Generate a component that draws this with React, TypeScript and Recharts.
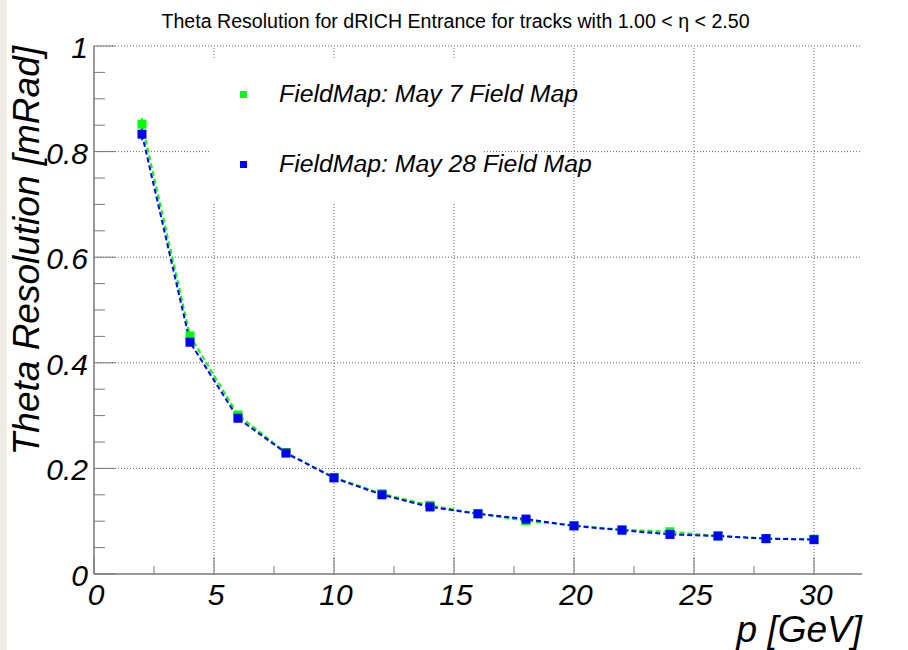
import React from "react";
import { ErrorBar, Line, LineChart, ReferenceLine, XAxis, YAxis } from "recharts";

// momentum points [GeV]
const momenta = [2, 4, 6, 8, 10, 12, 14, 16, 18, 20, 22, 24, 26, 28, 30];
// theta resolution [mRad]
const may7 = [0.852, 0.451, 0.301, 0.23, 0.183, 0.152, 0.13, 0.114, 0.101, 0.092, 0.084, 0.08, 0.072, 0.067, 0.066];
const may28 = [0.833, 0.439, 0.295, 0.229, 0.182, 0.15, 0.127, 0.114, 0.104, 0.091, 0.083, 0.075, 0.072, 0.067, 0.065];
const may7Err = [0.012, 0.006, 0.004, 0.003, 0.003, 0.002, 0.002, 0.002, 0.002, 0.002, 0.002, 0.002, 0.002, 0.002, 0.002];
const may28Err = [0.012, 0.006, 0.004, 0.003, 0.003, 0.002, 0.002, 0.002, 0.002, 0.002, 0.002, 0.002, 0.002, 0.002, 0.002];

const seriesNames = ["FieldMap: May 7 Field Map", "FieldMap: May 28 Field Map"];
const seriesColors = ["#00ff00", "#0000ff"];

const xTicks = [0, 2.5, 5, 7.5, 10, 12.5, 15, 17.5, 20, 22.5, 25, 27.5, 30];
const xMajor = [5, 10, 15, 20, 25, 30];
const yTicks = [0, 0.05, 0.1, 0.15, 0.2, 0.25, 0.3, 0.35, 0.4, 0.45, 0.5, 0.55, 0.6, 0.65, 0.7, 0.75, 0.8, 0.85, 0.9, 0.95, 1];
const yMajor = [0.2, 0.4, 0.6, 0.8, 1];

const title = "Theta Resolution for dRICH Entrance for tracks with 1.00 < \u03b7 < 2.50";
const xTitle = "p [GeV]";
const yTitle = "Theta Resolution [mRad]";

const data = momenta.map((p, i) => ({
  p,
  a: may7[i],
  aErr: may7Err[i],
  b: may28[i],
  bErr: may28Err[i],
}));

const FONT = "'Liberation Sans', Arial, Helvetica, sans-serif";
const AXIS = "#777";
const GRID = "#666";

const isMult = (v: number, step: number) => Math.abs(v / step - Math.round(v / step)) < 1e-6;
const fmtY = (v: number) => (v === 0 ? "0" : v === 1 ? "1" : v.toFixed(1));

function YTick(props: any) {
  const { x, y, payload } = props;
  const v = payload.value as number;
  const major = isMult(v, 0.2);
  const ax = x + 6;
  return (
    <g>
      <line x1={ax} x2={ax + (major ? 21 : 11)} y1={y} y2={y} stroke={AXIS} strokeWidth={1} />
      {major && (
        <text x={x} y={y} dy="0.4em" textAnchor="end" fontSize={30} fontStyle="italic" fontFamily={FONT} fill="#000">
          {fmtY(v)}
        </text>
      )}
    </g>
  );
}

function XTick(props: any) {
  const { x, y, payload } = props;
  const v = payload.value as number;
  const major = isMult(v, 5);
  const ay = y - 20;
  return (
    <g>
      <line x1={x} x2={x} y1={ay} y2={ay - (major ? 17 : 8)} stroke={AXIS} strokeWidth={1} />
      {major && (
        <text x={x + 2} y={y} dy="0.35em" textAnchor="middle" fontSize={30} fontStyle="italic" fontFamily={FONT} fill="#000">
          {v}
        </text>
      )}
    </g>
  );
}

const squareDot = (color: string) => (props: any) => {
  const { cx, cy, index } = props;
  if (cx == null || cy == null) return <g key={index} />;
  return <rect key={index} x={cx - 4.5} y={cy - 4.5} width={9} height={9} fill={color} />;
};

export default function App() {
  return (
    <div style={{ position: "absolute", left: 0, top: 0, width: 908, height: 650, background: "#fff", overflow: "hidden" }}>
      <div style={{ position: "absolute", left: 0, top: 0, width: 7, height: 650, background: "#efece4" }} />
      <LineChart width={908} height={650} data={data} margin={{ top: 46, right: 46, bottom: 75, left: 93 }}>
        {yMajor.map((v) => (
          <ReferenceLine key={"gy" + v} y={v} stroke={GRID} strokeDasharray="1 2" strokeWidth={1} />
        ))}
        {xMajor.map((v) => (
          <ReferenceLine key={"gx" + v} x={v} stroke={GRID} strokeDasharray="1 2" strokeWidth={1} />
        ))}
        <XAxis
          type="number"
          dataKey="p"
          domain={[0, 32]}
          ticks={xTicks}
          interval={0}
          height={1}
          tickSize={0}
          tickMargin={20}
          tickLine={false}
          axisLine={{ stroke: AXIS, strokeWidth: 1.5 }}
          tick={<XTick />}
          allowDataOverflow
          label={{
            content: (p: any) => (
              <text
                x={p.viewBox.x + p.viewBox.width}
                y={p.viewBox.y + 68}
                textAnchor="end"
                fontSize={37}
                fontStyle="italic"
                fontFamily={FONT}
                fill="#000"
              >
                {xTitle}
              </text>
            ),
          }}
        />
        <YAxis
          type="number"
          domain={[0, 1]}
          ticks={yTicks}
          interval={0}
          width={1}
          tickSize={0}
          tickMargin={6}
          tickLine={false}
          axisLine={{ stroke: AXIS, strokeWidth: 1.5 }}
          tick={<YTick />}
          allowDataOverflow
          label={{
            content: (p: any) => {
              const tx = p.viewBox.x - 54;
              const ty = p.viewBox.y;
              return (
                <text
                  x={tx}
                  y={ty}
                  transform={`rotate(-90, ${tx}, ${ty})`}
                  textAnchor="end"
                  fontSize={37}
                  fontStyle="italic"
                  fontFamily={FONT}
                  fill="#000"
                >
                  {yTitle}
                </text>
              );
            },
          }}
        />
        <Line
          dataKey="a"
          type="linear"
          stroke={seriesColors[0]}
          strokeWidth={2}
          strokeDasharray="5 3"
          dot={squareDot(seriesColors[0])}
          activeDot={false}
          isAnimationActive={false}
        >
          <ErrorBar dataKey="aErr" width={0} stroke={seriesColors[0]} strokeWidth={1.5} direction="y" isAnimationActive={false} />
        </Line>
        <Line
          dataKey="b"
          type="linear"
          stroke={seriesColors[1]}
          strokeWidth={2}
          strokeDasharray="5 3"
          dot={squareDot(seriesColors[1])}
          activeDot={false}
          isAnimationActive={false}
        >
          <ErrorBar dataKey="bErr" width={0} stroke={seriesColors[1]} strokeWidth={1.5} direction="y" isAnimationActive={false} />
        </Line>
      </LineChart>
      <div
        style={{
          position: "absolute",
          left: 0,
          top: 11.5,
          width: 911,
          textAlign: "center",
          fontFamily: FONT,
          fontSize: 19.6,
          lineHeight: "19px",
          color: "#000",
          whiteSpace: "nowrap",
        }}
      >
        {title}
      </div>
      <div style={{ position: "absolute", left: 209, top: 60, width: 273, height: 142, background: "#fff" }}>
        {seriesNames.map((name, i) => (
          <React.Fragment key={name}>
            <div
              style={{
                position: "absolute",
                left: 30.5,
                top: 30.5 + i * 70,
                width: 7,
                height: 7,
                background: seriesColors[i],
              }}
            />
            <div
              style={{
                position: "absolute",
                left: 70,
                top: 21.5 + i * 70,
                fontFamily: FONT,
                fontSize: 24.8,
                lineHeight: "24px",
                fontStyle: "italic",
                whiteSpace: "nowrap",
                color: "#000",
              }}
            >
              {name}
            </div>
          </React.Fragment>
        ))}
      </div>
    </div>
  );
}
